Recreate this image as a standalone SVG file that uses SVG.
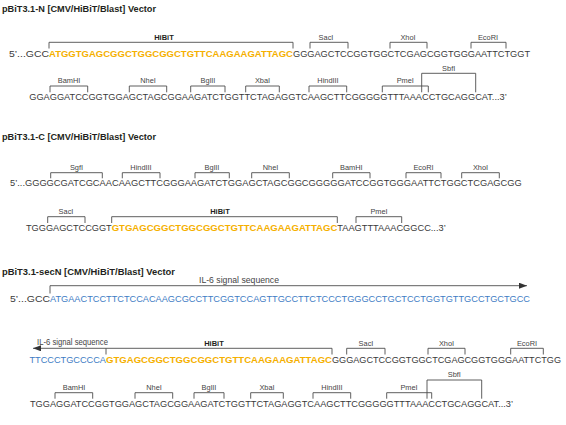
<svg xmlns="http://www.w3.org/2000/svg" width="566" height="425" viewBox="0 0 566 425">
<style>
text{font-family:"Liberation Sans",Arial,sans-serif}
.t{font-size:9.5px;font-weight:bold;fill:#231f20}
.s{font-size:9.8px;fill:#3a3a3a}
.y{font-size:9.8px;font-weight:bold;fill:#f5b000}
.b{font-size:9.8px;fill:#3e7cc4}
.l{font-size:7.4px;fill:#444;text-anchor:middle}
.h{font-size:7.5px;font-weight:bold;fill:#231f20;text-anchor:middle}
.sig{font-size:8.2px;fill:#444}
.br{fill:none;stroke:#4d4d4d;stroke-width:0.9}
</style>
<defs>
<marker id="ah" viewBox="0 0 8 6" refX="8" refY="3" markerWidth="8" markerHeight="6" markerUnits="userSpaceOnUse" orient="auto-start-reverse">
<path d="M0,0 L8,3 L0,6 z" fill="#333"/>
</marker>
</defs>
<rect width="566" height="425" fill="#fff"/>

<g id="section-N">
<text class="t" x="2" y="12" textLength="154" lengthAdjust="spacingAndGlyphs">pBiT3.1-N [CMV/HiBiT/Blast] Vector</text>
<text class="s" x="9" y="56.5" textLength="40" lengthAdjust="spacingAndGlyphs">5’...GCC</text>
<text class="y" x="49" y="56.5" textLength="244" lengthAdjust="spacingAndGlyphs">ATGGTGAGCGGCTGGCGGCTGTTCAAGAAGATTAGC</text>
<text class="s" x="293" y="56.5" textLength="237" lengthAdjust="spacingAndGlyphs">GGGAGCTCCGGTGGCTCGAGCGGTGGGAATTCTGGT</text>
<text class="s" x="29.3" y="100.3" textLength="477.4" lengthAdjust="spacingAndGlyphs">GGAGGATCCGGTGGAGCTAGCGGAAGATCTGGTTCTAGAGGTCAAGCTTCGGGGGTTTAAACCTGCAGGCAT...3’</text>
<g id="N-features">
<text class="h" x="164" y="39.5">HiBiT</text>
<text class="l" x="326" y="39.5">SacI</text>
<text class="l" x="408" y="39.5">XhoI</text>
<text class="l" x="488" y="39.5">EcoRI</text>
<text class="l" x="69" y="83.3">BamHI</text>
<text class="l" x="148" y="83.3">NheI</text>
<text class="l" x="208" y="83.3">BglII</text>
<text class="l" x="262.5" y="83.3">XbaI</text>
<text class="l" x="328" y="83.3">HindIII</text>
<text class="l" x="405.3" y="83.3">PmeI</text>
<text class="l" x="448.7" y="70.5">SbfI</text>
</g>
</g>

<g id="section-C">
<text class="t" x="2" y="139.5" textLength="154" lengthAdjust="spacingAndGlyphs">pBiT3.1-C [CMV/HiBiT/Blast] Vector</text>
<text class="s" x="10" y="185.7" textLength="511.7" lengthAdjust="spacingAndGlyphs">5’...GGGGCGATCGCAACAAGCTTCGGGAAGATCTGGAGCTAGCGGCGGGGGATCCGGTGGGAATTCTGGCTCGAGCGG</text>
<text class="s" x="26" y="230.7" textLength="85.7" lengthAdjust="spacingAndGlyphs">TGGGAGCTCCGGT</text>
<text class="y" x="111.7" y="230.7" textLength="225.6" lengthAdjust="spacingAndGlyphs">GTGAGCGGCTGGCGGCTGTTCAAGAAGATTAGC</text>
<text class="s" x="337.3" y="230.7" textLength="108.4" lengthAdjust="spacingAndGlyphs">TAAGTTTAAACGGCC...3’</text>
<g id="C-features">
<text class="l" x="76.5" y="170">SgfI</text>
<text class="l" x="141" y="170">HindIII</text>
<text class="l" x="212" y="170">BglII</text>
<text class="l" x="270.5" y="170">NheI</text>
<text class="l" x="351.3" y="170">BamHI</text>
<text class="l" x="423.5" y="170">EcoRI</text>
<text class="l" x="480.5" y="170">XhoI</text>
<text class="l" x="66" y="214">SacI</text>
<text class="h" x="220" y="214">HiBiT</text>
<text class="l" x="379" y="214">PmeI</text>
</g>
</g>

<g id="section-secN">
<text class="t" x="2" y="274.5" textLength="173" lengthAdjust="spacingAndGlyphs">pBiT3.1-secN [CMV/HiBiT/Blast] Vector</text>
<text class="s" x="10" y="301.7" textLength="40" lengthAdjust="spacingAndGlyphs">5’...GCC</text>
<text class="b" x="50" y="301.7" textLength="480" lengthAdjust="spacingAndGlyphs">ATGAACTCCTTCTCCACAAGCGCCTTCGGTCCAGTTGCCTTCTCCCTGGGCCTGCTCCTGGTGTTGCCTGCTGCC</text>
<text class="b" x="29.5" y="362.7" textLength="76.5" lengthAdjust="spacingAndGlyphs">TTCCCTGCCCCA</text>
<text class="y" x="106" y="362.7" textLength="226" lengthAdjust="spacingAndGlyphs">GTGAGCGGCTGGCGGCTGTTCAAGAAGATTAGC</text>
<text class="s" x="332" y="362.7" textLength="229" lengthAdjust="spacingAndGlyphs" style="font-size:9.1px">GGGAGCTCCGGTGGCTCGAGCGGTGGGAATTCTGG</text>
<text class="s" x="30" y="406.7" textLength="483" lengthAdjust="spacingAndGlyphs">TGGAGGATCCGGTGGAGCTAGCGGAAGATCTGGTTCTAGAGGTCAAGCTTCGGGGGTTTAAACCTGCAGGCAT...3’</text>
<g id="secN-features">
<text class="sig" x="199" y="283" textLength="80" lengthAdjust="spacingAndGlyphs">IL-6 signal sequence</text>
<text class="sig" x="37" y="345.3" textLength="71" lengthAdjust="spacingAndGlyphs">IL-6 signal sequence</text>
<text class="h" x="214" y="345.5">HiBiT</text>
<text class="l" x="366" y="345.5">SacI</text>
<text class="l" x="446.5" y="345.5">XhoI</text>
<text class="l" x="527" y="345.5">EcoRI</text>
<text class="l" x="74" y="390">BamHI</text>
<text class="l" x="154" y="390">NheI</text>
<text class="l" x="209" y="390">BglII</text>
<text class="l" x="267" y="390">XbaI</text>
<text class="l" x="332" y="390">HindIII</text>
<text class="l" x="409" y="390">PmeI</text>
<text class="l" x="454.3" y="377.3">SbfI</text>
</g>
</g>

<g id="connectors">
<path class="br" d="M49,48.5V42.3H293V48.5"/>
<path class="br" d="M310,48.5V42.3H348V48.5"/>
<path class="br" d="M390,48.5V42.3H427V48.5"/>
<path class="br" d="M471,48.5V42.3H506V48.5"/>
<path class="br" d="M50,92.3V86H87.7V92.3"/>
<path class="br" d="M129.3,92.3V86H166.7V92.3"/>
<path class="br" d="M190.7,92.3V86H225V92.3"/>
<path class="br" d="M245.7,92.3V86H279.3V92.3"/>
<path class="br" d="M309,92.3V86H346.7V92.3"/>
<path class="br" d="M382.3,92.3V86H428.3V92.3"/>
<path class="br" d="M421.7,92.3V73.3H475.7V92.3"/>

<path class="br" d="M50.7,178.3V172.7H102.3V178.3"/>
<path class="br" d="M122.3,178.3V172.7H160V178.3"/>
<path class="br" d="M195,178.3V172.7H229.3V178.3"/>
<path class="br" d="M251.7,178.3V172.7H289.3V178.3"/>
<path class="br" d="M332.7,178.3V172.7H370V178.3"/>
<path class="br" d="M406,178.3V172.7H441V178.3"/>
<path class="br" d="M461.7,178.3V172.7H499.3V178.3"/>
<path class="br" d="M47.7,223V216.7H85V223"/>
<path class="br" d="M111.7,223V216.7H337.3V223"/>
<path class="br" d="M356,223V216.7H401.7V223"/>

<path class="br" d="M50,293.5V285.7H527" marker-end="url(#ah)"/>
<path class="br" d="M106,354.5V348.3H33" marker-end="url(#ah)"/>
<path class="br" d="M106,348.3H332V354.5"/>
<path class="br" d="M346.7,354.5V348.3H385V354.5"/>
<path class="br" d="M428,354.5V348.3H465V354.5"/>
<path class="br" d="M510.7,354.5V348.3H543.3V354.5"/>
<path class="br" d="M55,398.7V392.7H92.7V398.7"/>
<path class="br" d="M135,398.7V392.7H172.7V398.7"/>
<path class="br" d="M194,398.7V392.7H224V398.7"/>
<path class="br" d="M250.7,398.7V392.7H283.3V398.7"/>
<path class="br" d="M313,398.7V392.7H350.7V398.7"/>
<path class="br" d="M386.7,398.7V392.7H431.7V398.7"/>
<path class="br" d="M427,398.7V380H481.7V398.7"/>
</g>
</svg>
